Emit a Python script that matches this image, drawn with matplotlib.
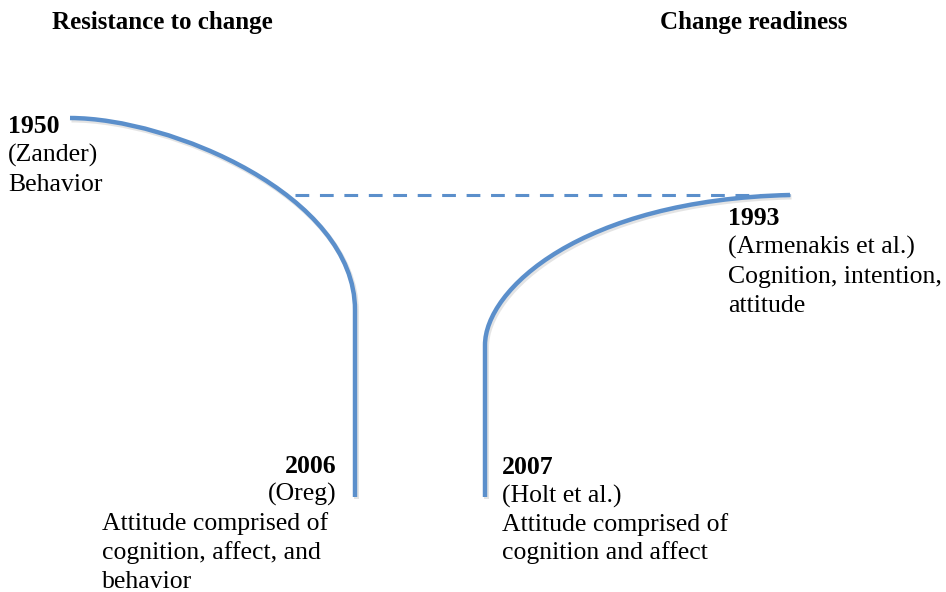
import matplotlib
matplotlib.use("Agg")
import matplotlib.pyplot as plt
from matplotlib.path import Path
from matplotlib.patches import PathPatch

# headings
headings = ["Resistance to change", "Change readiness"]
heading_x = [52, 660]

# curve anchors: bezier control points and the end of the straight part
left_curve = [(70, 118), (170, 118), (355, 195), (355, 310)]
left_end = (355, 497)
right_curve = [(485, 345), (485, 290), (580, 200), (790, 195)]
right_start = (485, 497)
dash_line = [(295, 195), (790, 195)]

# labels: year, source, description lines
labels_1950 = ["1950", "(Zander)", "Behavior"]
labels_2006 = ["2006", "(Oreg)"]
desc_2006 = ["Attitude comprised of", "cognition, affect, and", "behavior"]
labels_2007 = ["2007", "(Holt et al.)", "Attitude comprised of", "cognition and affect"]
labels_1993 = ["1993", "(Armenakis et al.)", "Cognition, intention,", "attitude"]

blue = "#5b8fcb"
fs = 18.5
font = "Liberation Serif"

fig = plt.figure(figsize=(9.46, 5.92), dpi=100)
ax = fig.add_axes([0, 0, 1, 1])
ax.set_xlim(0, 946)
ax.set_ylim(592, 0)
ax.axis("off")

C = Path.CURVE4
left_path = (left_curve + [left_end],
             [Path.MOVETO, C, C, C, Path.LINETO])
right_path = ([right_start] + right_curve,
              [Path.MOVETO, Path.LINETO, C, C, C])

def shift(pts, dx=1.5, dy=2):
    return [(x + dx, y + dy) for x, y in pts]

# soft shadow first, then the blue line
for verts, codes in [left_path, right_path]:
    ax.add_patch(PathPatch(Path(shift(verts), codes), fill=False, edgecolor="#888888",
                           lw=3.6, alpha=0.22, capstyle="butt", joinstyle="round"))
    ax.add_patch(PathPatch(Path(verts, codes), fill=False, edgecolor=blue,
                           lw=3.2, capstyle="butt", joinstyle="round"))
xs, ys = zip(*dash_line)
ax.plot(xs, ys, color=blue, lw=2.2, dashes=(4.5, 3.5))

for t, x in zip(headings, heading_x):
    ax.text(x, 29, t, fontsize=18, fontweight="bold", family=font, va="baseline")

def block(lines, x, y0, step, ha="left", bold_first=True):
    for i, t in enumerate(lines):
        ax.text(x, y0 + i * step, t, fontsize=fs, family=font, ha=ha, va="baseline",
                fontweight="bold" if (i == 0 and bold_first) else "normal")

block(labels_1950, 8, 133, 29)
block(labels_2006, 336, 473, 28, ha="right")
block(desc_2006, 102, 530, 29, bold_first=False)
block(labels_2007, 502, 474, 28.5)
block(labels_1993, 728, 225, 29)

fig.savefig("out.png", dpi=100)
